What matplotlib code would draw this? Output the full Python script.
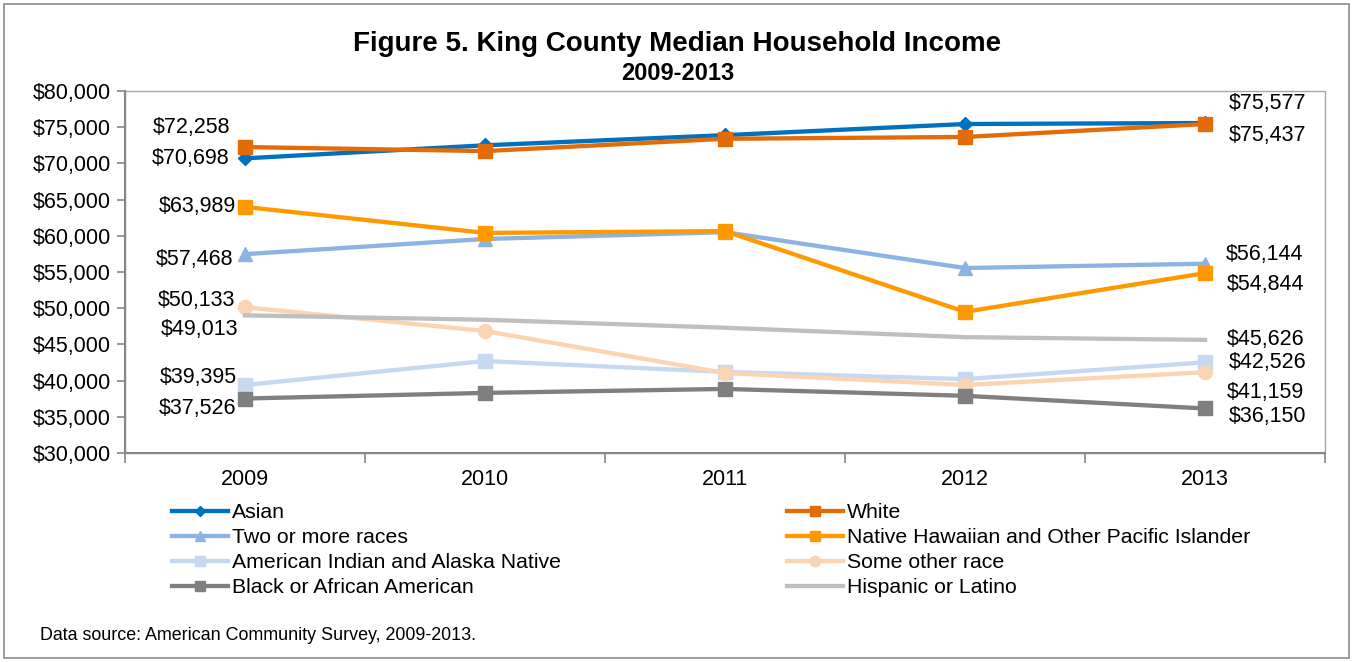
import matplotlib
matplotlib.use("Agg")
import matplotlib.pyplot as plt
from matplotlib.patches import Rectangle
from matplotlib.ticker import FuncFormatter, MultipleLocator

plt.rcParams['font.family'] = ['Liberation Sans', 'DejaVu Sans']

years = ["2009", "2010", "2011", "2012", "2013"]

asian = [70698, 72500, 73900, 75440, 75577]
white = [72258, 71700, 73400, 73650, 75437]
two_or_more = [57468, 59560, 60500, 55550, 56144]
nhpi = [63989, 60400, 60650, 49500, 54844]
aian = [39395, 42700, 41200, 40200, 42526]
some_other = [50133, 46850, 41050, 39400, 41159]
black = [37526, 38300, 38850, 37900, 36150]
hispanic = [49013, 48400, 47300, 46000, 45626]

series_names = [
    "Asian", "White", "Two or more races",
    "Native Hawaiian and Other Pacific Islander",
    "American Indian and Alaska Native", "Some other race",
    "Black or African American", "Hispanic or Latino",
]
series_values = [asian, white, two_or_more, nhpi, aian, some_other, black, hispanic]

# style per series: colour, marker, marker size
styles = {
    "Asian": ("#0070C0", "D", 7),
    "White": ("#E36C09", "s", 10),
    "Two or more races": ("#8DB3E2", "^", 10),
    "Native Hawaiian and Other Pacific Islander": ("#FF9900", "s", 10),
    "American Indian and Alaska Native": ("#C6D9F1", "s", 10),
    "Some other race": ("#FBD4B4", "o", 10),
    "Black or African American": ("#7F7F7F", "s", 10),
    "Hispanic or Latino": ("#BFBFBF", "None", 0),
}

# label offsets (pixels) for first and last year values
first_offsets = {
    "Asian": (-16, 0), "White": (-15, 20), "Two or more races": (-12, -5),
    "Native Hawaiian and Other Pacific Islander": (-9, 0),
    "American Indian and Alaska Native": (-8, 7), "Some other race": (-10, 7),
    "Black or African American": (-9, -10), "Hispanic or Latino": (-7, -14),
}
last_offsets = {
    "Asian": (24, 20), "White": (24, -11), "Two or more races": (21, 9),
    "Native Hawaiian and Other Pacific Islander": (22, -11),
    "American Indian and Alaska Native": (24, 0), "Some other race": (22, -20),
    "Black or African American": (24, -8), "Hispanic or Latino": (22, 0),
}

W, H = 1353, 662
fig = plt.figure(figsize=(W / 100, H / 100), dpi=100)
fig.patches.append(Rectangle((4 / W, 4 / H), (W - 8) / W, (H - 8) / H,
                             transform=fig.transFigure, fill=False,
                             edgecolor="#8C8C8C", linewidth=1.2))

ax = fig.add_axes([125 / W, (H - 453) / H, 1200 / W, 362 / H])
x = list(range(len(years)))
axis_color = "#868686"
label_size = 15.5

lines = {}
for name, vals in zip(series_names, series_values):
    color, marker, ms = styles[name]
    ln, = ax.plot(x, vals, color=color, linewidth=3.1, marker=marker,
                  markersize=ms, markerfacecolor=color, markeredgecolor=color,
                  label=name, solid_joinstyle="round", zorder=3)
    lines[name] = ln
    ax.annotate(f"${vals[0]:,}", (x[0], vals[0]), xytext=first_offsets[name],
                textcoords="offset pixels", ha="right", va="center",
                fontsize=label_size, color="black", zorder=5)
    ax.annotate(f"${vals[-1]:,}", (x[-1], vals[-1]), xytext=last_offsets[name],
                textcoords="offset pixels", ha="left", va="center",
                fontsize=label_size, color="black", zorder=5)

ax.set_xlim(-0.5, len(years) - 0.5)
ax.set_ylim(30000, 80000)
ax.yaxis.set_major_locator(MultipleLocator(5000))
ax.yaxis.set_major_formatter(FuncFormatter(lambda v, p: f"${int(v):,}"))
ax.set_xticks(x)
ax.set_xticklabels(years)
ax.set_xticks([i - 0.5 for i in range(len(years) + 1)], minor=True)
ax.tick_params(axis="x", which="major", length=0, pad=11.5, labelsize=label_size)
ax.tick_params(axis="x", which="minor", length=7, color=axis_color, width=1.2)
ax.tick_params(axis="y", length=6, color=axis_color, width=1.2,
               labelsize=label_size, pad=4)

for side in ("top", "right"):
    ax.spines[side].set_visible(False)
for side in ("left", "bottom"):
    ax.spines[side].set_color(axis_color)
    ax.spines[side].set_linewidth(1.5)

# plot-area frame on the right and top (light)
ax.add_patch(Rectangle((0, 0), 1, 1, transform=ax.transAxes, fill=False,
                       edgecolor="#A6A6A6", linewidth=1.0, zorder=0, clip_on=False))

fig.text(677 / W, 1 - 44 / H, "Figure 5. King County Median Household Income",
         ha="center", va="center", fontsize=20, fontweight="bold")
fig.text(678 / W, 1 - 73 / H, "2009-2013", ha="center", va="center",
         fontsize=17, fontweight="bold")

left_names = ["Asian", "Two or more races", "American Indian and Alaska Native",
              "Black or African American"]
right_names = ["White", "Native Hawaiian and Other Pacific Islander",
               "Some other race", "Hispanic or Latino"]
for names, xpos in ((left_names, 172), (right_names, 787)):
    fig.legend([lines[n] for n in names], names, loc="upper left",
               bbox_to_anchor=(xpos / W, 1 - 503 / H), frameon=False,
               fontsize=15.3, handlelength=2.65, handletextpad=0.19,
               labelspacing=0.29, borderpad=0, borderaxespad=0, numpoints=1,
               markerscale=0.75)

fig.text(40 / W, 1 - 636 / H, "Data source: American Community Survey, 2009-2013.",
         ha="left", va="center", fontsize=12.9)

fig.savefig("out.png", dpi=100)
